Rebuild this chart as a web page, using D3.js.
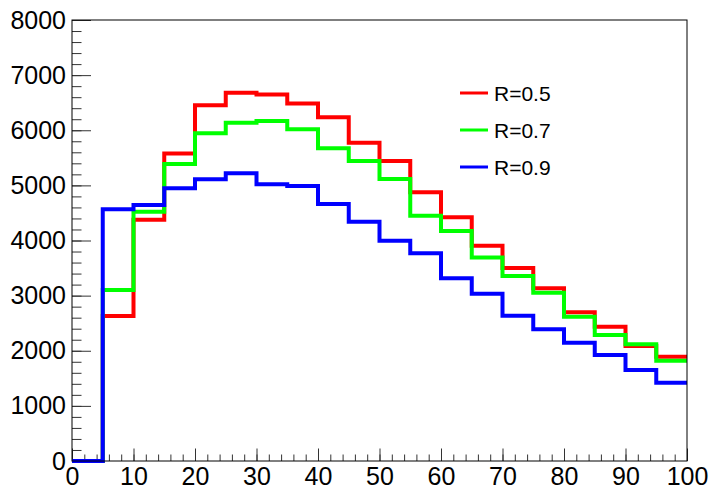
<!DOCTYPE html>
<html>
<head>
<meta charset="utf-8">
<script src="https://cdn.jsdelivr.net/npm/d3@7"></script>
<style>
  html, body { margin: 0; padding: 0; background: #fff; }
  svg text { font-family: "Liberation Sans", Arial, sans-serif; fill: #000; }
</style>
</head>
<body>
<div id="chart"></div>
<script>
// bin low edges (width 5)
const binEdges = [0, 5, 10, 15, 20, 25, 30, 35, 40, 45, 50, 55, 60, 65, 70, 75, 80, 85, 90, 95];
const xMax = 100;

const seriesNames = ['R=0.5', 'R=0.7', 'R=0.9'];
const seriesColors = ['#ff0000', '#00ff00', '#0000ff'];

const r05 = [0, 2630, 4375, 5580, 6455, 6680, 6650, 6485, 6235, 5775, 5440, 4875, 4420, 3905, 3500, 3133, 2697, 2436, 2086, 1893];
const r07 = [0, 3100, 4520, 5390, 5945, 6135, 6170, 6017, 5672, 5442, 5116, 4450, 4172, 3690, 3356, 3053, 2618, 2286, 2117, 1820];
const r09 = [0, 4566, 4644, 4947, 5110, 5219, 5019, 4989, 4662, 4341, 3997, 3768, 3314, 3036, 2635, 2389, 2146, 1923, 1651, 1421];

const xTicks = [0, 10, 20, 30, 40, 50, 60, 70, 80, 90, 100];
const yTicks = [0, 1000, 2000, 3000, 4000, 5000, 6000, 7000, 8000];

const width = 709;
const height = 488;
const margin = { top: 20, left: 72, right: 22, bottom: 27 };

const svg = d3.select('#chart')
    .append('svg')
    .attr('width', width)
    .attr('height', height);

const x = d3.scaleLinear()
    .domain([0, xMax])
    .range([margin.left, width - margin.right]);

const y = d3.scaleLinear()
    .domain([0, 8000])
    .range([height - margin.bottom, margin.top]);

// minor ticks
svg.append('g')
    .attr('transform', `translate(${margin.left},0)`)
    .call(d3.axisLeft(y).ticks(40).tickSize(-9.5).tickFormat(''))
    .call(g => g.select('.domain').remove())
    .selectAll('line').attr('stroke', '#333');

svg.append('g')
    .attr('transform', `translate(0,${height - margin.bottom})`)
    .call(d3.axisBottom(x).ticks(50).tickSize(-6.5).tickFormat(''))
    .call(g => g.select('.domain').remove())
    .selectAll('line').attr('stroke', '#333');

// major ticks + labels
svg.append('g')
    .attr('transform', `translate(${margin.left},0)`)
    .call(d3.axisLeft(y).tickValues(yTicks).tickSize(-19).tickPadding(6).tickFormat(d3.format('d')))
    .call(g => g.select('.domain').remove())
    .call(g => g.selectAll('line').attr('stroke', '#333'))
    .selectAll('text')
    .style('font-size', '25px');

svg.append('g')
    .attr('transform', `translate(0,${height - margin.bottom})`)
    .call(d3.axisBottom(x).tickValues(xTicks).tickSize(-12.5).tickPadding(6).tickFormat(d3.format('d')))
    .call(g => g.select('.domain').remove())
    .call(g => g.selectAll('line').attr('stroke', '#333'))
    .selectAll('text')
    .style('font-size', '25px');

// histograms
const line = d3.line()
    .x(d => x(d[0]))
    .y(d => y(d[1]))
    .curve(d3.curveStepAfter);

[r05, r07, r09].forEach((vals, i) => {
    const pts = binEdges.map((e, j) => [e, vals[j]]);
    pts.push([xMax, vals[vals.length - 1]]);
    svg.append('path')
        .datum(pts)
        .attr('fill', 'none')
        .attr('stroke', seriesColors[i])
        .attr('stroke-width', 4)
        .attr('d', line);
});

// frame
svg.append('rect')
    .attr('x', margin.left)
    .attr('y', margin.top)
    .attr('width', width - margin.right - margin.left)
    .attr('height', height - margin.bottom - margin.top)
    .attr('fill', 'none')
    .attr('stroke', '#000')
    .attr('stroke-width', 1);

// legend
const legend = svg.append('g');
seriesNames.forEach((name, i) => {
    const ly = 93 + i * 37;
    legend.append('line')
        .attr('x1', 460).attr('x2', 488)
        .attr('y1', ly).attr('y2', ly)
        .attr('stroke', seriesColors[i])
        .attr('stroke-width', 3);
    legend.append('text')
        .attr('x', 494)
        .attr('y', ly)
        .attr('dy', '0.36em')
        .style('font-size', '21px')
        .text(name);
});
</script>
</body>
</html>
